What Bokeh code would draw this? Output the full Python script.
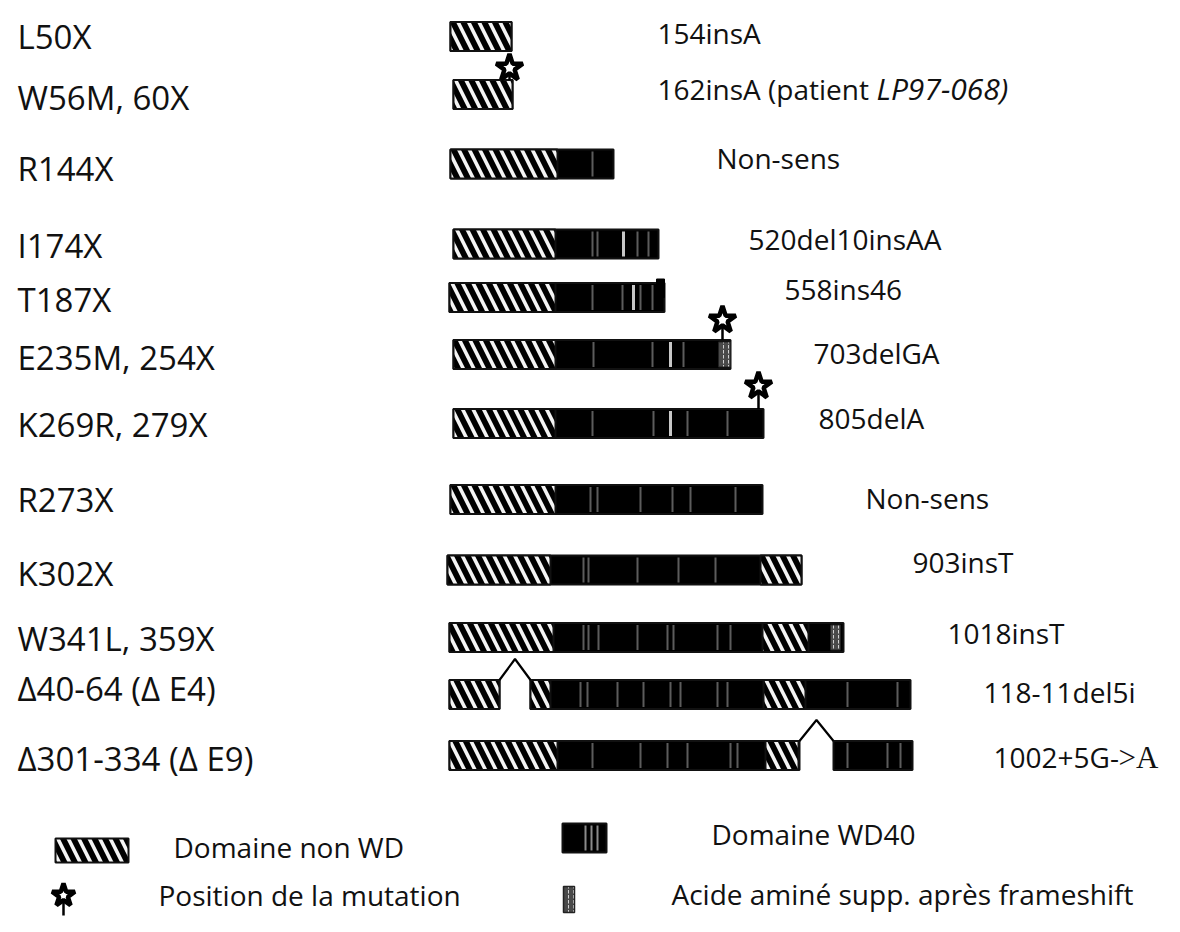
from bokeh.plotting import figure
from bokeh.models import Range1d
from bokeh.core.properties import value
from bokeh.embed import file_html
from bokeh.resources import INLINE

# ---------------- data (diagram units) ----------------
mutations = ["L50X", "W56M, 60X", "R144X", "I174X", "T187X", "E235M, 254X",
             "K269R, 279X", "R273X", "K302X", "W341L, 359X",
             "Δ40-64 (Δ E4)", "Δ301-334 (Δ E9)"]
notes = ["154insA", "162insA (patient", "Non-sens", "520del10insAA", "558ins46",
         "703delGA", "805delA", "Non-sens", "903insT", "1018insT",
         "118-11del5i", "1002+5G-"]
bar_start = [450, 453, 450, 453, 449, 453, 453, 450, 447, 449, 449, 449]
bar_end = [511, 512, 613, 658, 664, 730, 763, 762, 801, 843, 910, 912]
nonwd_end = [511, 512, 557, 555, 555, 555, 555, 555, 550, 553, 550, 557]
cterm_start = [None, None, None, None, None, None, None, None, 760, 762, 763, 765]
cterm_end = [None, None, None, None, None, None, None, None, 801, 808, 805, 798]
fs_start = [None, None, None, None, None, 718, None, None, None, 830, None, None]
fs_end = [None, None, None, None, None, 730, None, None, None, 840, None, None]
gap_start = [None] * 10 + [499, 799]
gap_end = [None] * 10 + [530, 833]
star_row = [1, 5, 6]
star_x = [509, 722, 758]
wd_stripes = [[], [], [592], [592, 597, 637, 648], [592, 622, 640, 652],
              [593, 652, 683], [592, 653, 687, 727],
              [590, 597, 640, 672, 690, 735], [583, 588, 637, 678, 715],
              [583, 588, 598, 637, 667, 673, 717, 730],
              [580, 587, 617, 643, 670, 680, 717, 727, 847, 897],
              [592, 640, 667, 687, 730, 737, 847, 887, 900]]
wd_bright = [[], [], [], [623], [633], [670], [670], [], [], [], [], []]
end_bump_row = [4]

# ---------------- layout (screen-like units) ----------------
row_y = [36, 94, 163.5, 243.5, 297, 354, 423, 499, 569.5, 637, 694, 755]
bar_h = 29
label_x = 17
label_y = [36, 97, 168, 245, 299, 357, 424, 499, 573, 638, 688, 758]
note_x = [657, 657, 716, 748, 784, 813, 818, 865, 912, 947, 983, 993]
note_y = [32, 88, 157, 238, 288, 352, 417, 497, 561, 632, 691, 756]
star_lift = [12, 20, 23]
FONT = value("Open Sans")

p = figure(width=1164, height=916, x_range=Range1d(0, 1164), y_range=Range1d(916, 0),
           output_backend="svg", toolbar_location=None, min_border=0,
           x_axis_location=None, y_axis_location=None)
p.grid.visible = False
p.outline_line_color = None
p.background_fill_color = "white"
p.border_fill_color = "white"

HATCH = dict(fill_color="black", hatch_pattern="\\", hatch_color="#f4f4f4",
             hatch_weight=3.6, hatch_scale=21, line_color="#111", line_width=2)

# build pieces from the data
blk = dict(l=[], r=[], t=[], b=[])
hat = dict(l=[], r=[], t=[], b=[])
for i in range(len(mutations)):
    top, bot = row_y[i] - bar_h / 2, row_y[i] + bar_h / 2
    if gap_start[i] is not None:
        pieces = [(bar_start[i], gap_start[i]), (gap_end[i], bar_end[i])]
    else:
        pieces = [(bar_start[i], bar_end[i])]
    for a, b in pieces:
        blk["l"].append(a); blk["r"].append(b); blk["t"].append(top); blk["b"].append(bot)
        hb = min(b, nonwd_end[i])
        if hb > a:
            hat["l"].append(a); hat["r"].append(hb); hat["t"].append(top); hat["b"].append(bot)
        if cterm_start[i] is not None:
            ca, cb = max(a, cterm_start[i]), min(b, cterm_end[i])
            if cb > ca:
                hat["l"].append(ca); hat["r"].append(cb); hat["t"].append(top); hat["b"].append(bot)

p.quad(left=blk["l"], right=blk["r"], top=blk["t"], bottom=blk["b"],
       fill_color="black", line_color="#111", line_width=2)

# small end bump on T187X
for i in end_bump_row:
    p.quad(left=[bar_end[i] - 8], right=[bar_end[i]], top=[row_y[i] - bar_h / 2 - 4],
           bottom=[row_y[i]], fill_color="black", line_color="black")

# WD40 light stripes
sx, sy0, sy1 = [], [], []
bx, by0, by1 = [], [], []
for i in range(len(mutations)):
    for x in wd_stripes[i]:
        sx.append(x); sy0.append(row_y[i] - bar_h / 2 + 2); sy1.append(row_y[i] + bar_h / 2 - 2)
    for x in wd_bright[i]:
        bx.append(x); by0.append(row_y[i] - bar_h / 2 + 2); by1.append(row_y[i] + bar_h / 2 - 2)
p.segment(x0=sx, y0=sy0, x1=sx, y1=sy1, line_color="#5c5c5c", line_width=2)
p.segment(x0=bx, y0=by0, x1=bx, y1=by1, line_color="#c8c8c8", line_width=3)

# hatched non-WD domains
p.quad(left=hat["l"], right=hat["r"], top=hat["t"], bottom=hat["b"], **HATCH)

# frameshift extra amino acids
fl, fr, ft, fb = [], [], [], []
for i in range(len(mutations)):
    if fs_start[i] is not None:
        fl.append(fs_start[i]); fr.append(fs_end[i])
        ft.append(row_y[i] - bar_h / 2 + 2); fb.append(row_y[i] + bar_h / 2 - 2)
p.quad(left=fl, right=fr, top=ft, bottom=fb, fill_color="#4a4a4a",
       hatch_pattern=":", hatch_color="#d0d0d0", hatch_scale=5, hatch_weight=1,
       line_color="#222", line_width=1)

# exon-skipping carets
for i in range(len(mutations)):
    if gap_start[i] is not None:
        top = row_y[i] - bar_h / 2
        p.line(x=[gap_start[i], (gap_start[i] + gap_end[i]) / 2, gap_end[i]],
               y=[top, top - 21, top], line_color="black", line_width=2.2)

# mutation stars with stems
st_y = [row_y[r] - bar_h / 2 - lift for r, lift in zip(star_row, star_lift)]
p.segment(x0=star_x, y0=st_y, x1=star_x, y1=[row_y[r] - bar_h / 2 for r in star_row],
          line_color="black", line_width=2.5)
p.scatter(x=star_x, y=st_y, marker="star", size=28, fill_color="white",
          line_color="black", line_width=4.5)

# labels
p.text(x=[label_x] * len(mutations), y=label_y, text=mutations, text_font=FONT,
       text_font_size="33px", text_color="#111", text_baseline="middle")
p.text(x=note_x, y=note_y, text=notes, text_font=FONT, text_font_size="28px",
       text_color="#111", text_baseline="middle")
p.text(x=[876], y=[note_y[1]], text=["LP97-068)"], text_font=FONT,
       text_font_style="italic", text_font_size="30px", text_color="#111",
       text_baseline="middle")
p.text(x=[1118], y=[note_y[11] + 1], text=[">A"], text_font=value("Liberation Serif"),
       text_font_size="31px", text_color="#111", text_baseline="middle")

# ---------------- legend ----------------
p.quad(left=[55], right=[128], top=[838], bottom=[862], **HATCH)
p.quad(left=[562], right=[606], top=[823], bottom=[852], fill_color="black",
       line_color="#111", line_width=2)
p.segment(x0=[585, 591, 597], y0=[825] * 3, x1=[585, 591, 597], y1=[850] * 3,
          line_color="#8a8a8a", line_width=2)
p.quad(left=[563], right=[574], top=[886], bottom=[912], fill_color="#4a4a4a",
       hatch_pattern=":", hatch_color="#d0d0d0", hatch_scale=5, hatch_weight=1,
       line_color="#222", line_width=1.5)
p.segment(x0=[63], y0=[895], x1=[63], y1=[915], line_color="black", line_width=2.5)
p.scatter(x=[63], y=[895], marker="star", size=24, fill_color="white",
          line_color="black", line_width=4.5)
p.text(x=[173, 158], y=[846, 894], text=["Domaine non WD", "Position de la mutation"],
       text_font=FONT, text_font_size="28px", text_color="#111", text_baseline="middle")
p.text(x=[711, 671], y=[833, 893], text=["Domaine WD40", "Acide aminé supp. après frameshift"],
       text_font=FONT, text_font_size="28px", text_color="#111", text_baseline="middle")

open("out.html", "w").write(file_html(p, INLINE))
